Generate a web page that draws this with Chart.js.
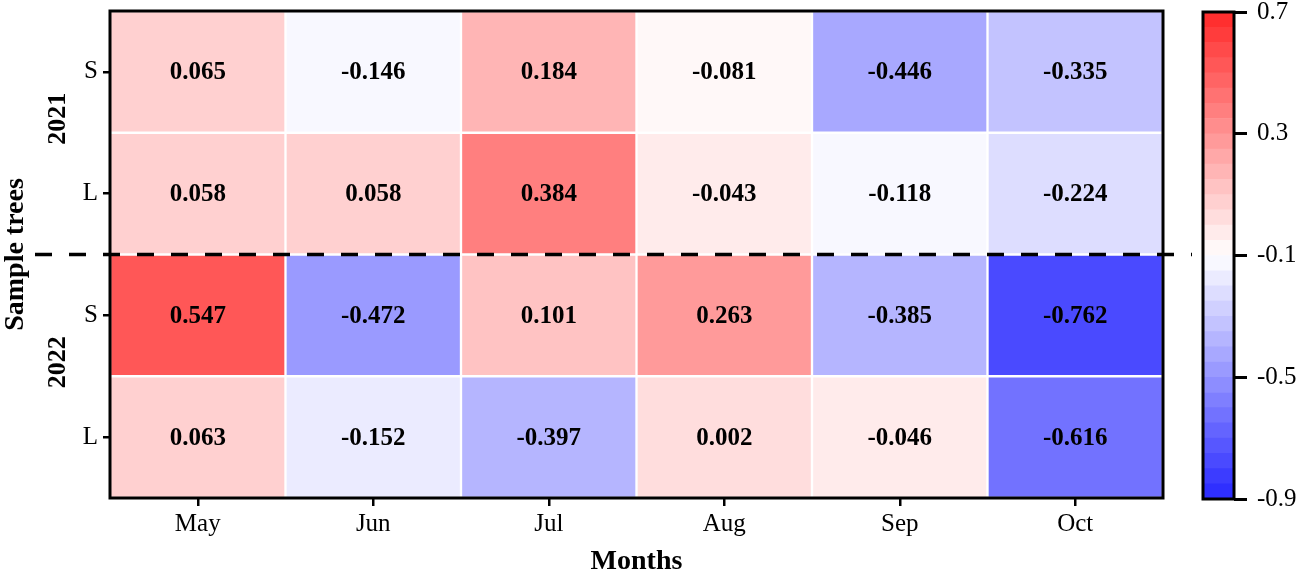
<!DOCTYPE html>
<html>
<head>
<meta charset="utf-8">
<script src="https://cdn.jsdelivr.net/npm/chart.js@4.4.1/dist/chart.umd.min.js"></script>
<style>
  body { margin: 0; background: #fff; }
  #wrap { position: relative; width: 1299px; height: 576px; }
  #wrap canvas { position: absolute; left: 0; top: 0; }
</style>
</head>
<body>
<div id="wrap">
  <canvas id="heat" width="1299" height="576"></canvas>
  <canvas id="bar" width="1299" height="576"></canvas>
</div>
<script>
const months = ['May', 'Jun', 'Jul', 'Aug', 'Sep', 'Oct'];
const rowLabels = ['S', 'L', 'S', 'L'];
const years = ['2021', '2022'];

const s2021 = [0.065, -0.146, 0.184, -0.081, -0.446, -0.335];
const l2021 = [0.058, 0.058, 0.384, -0.043, -0.118, -0.224];
const s2022 = [0.547, -0.472, 0.101, 0.263, -0.385, -0.762];
const l2022 = [0.063, -0.152, -0.397, 0.002, -0.046, -0.616];
const rows = [s2021, l2021, s2022, l2022];

const cbTicks = [0.7, 0.3, -0.1, -0.5, -0.9];
const cbMin = -0.9, cbMax = 0.7, cbMid = -0.1, cbStep = 0.05;

Chart.defaults.color = '#000';
Chart.defaults.font.family = '"Liberation Serif", "Times New Roman", serif';

// blue - white - red, stepped like the colour bar
function colorAt(v) {
  const n = Math.round((cbMax - cbMin) / cbStep);
  let b = Math.floor((v - cbMin) / cbStep);
  b = Math.max(0, Math.min(n - 1, b));
  const c = cbMin + (b + 0.5) * cbStep;
  let r, g, bl;
  if (c >= cbMid) {
    const t = (c - cbMid) / (cbMax - cbMid);
    r = 255; g = 255 - t * 215; bl = g;
  } else {
    const t = (cbMid - c) / (cbMid - cbMin);
    bl = 255; r = 255 - t * 215; g = r;
  }
  return 'rgb(' + Math.round(r) + ',' + Math.round(g) + ',' + Math.round(bl) + ')';
}

const cellText = {
  id: 'cellText',
  afterDatasetsDraw(chart) {
    const ctx = chart.ctx;
    const area = chart.chartArea;
    const y = chart.scales.y;
    ctx.save();
    ctx.font = 'bold 25px "Liberation Serif"';
    ctx.fillStyle = '#000';
    ctx.textAlign = 'center';
    ctx.textBaseline = 'middle';
    chart.data.datasets.forEach((ds, i) => {
      chart.getDatasetMeta(i).data.forEach((el, j) => {
        const p = el.getCenterPoint();
        ctx.fillText(rows[i][j].toFixed(3), p.x, p.y + 1);
      });
    });
    // frame
    ctx.strokeStyle = '#000';
    ctx.lineWidth = 3;
    ctx.strokeRect(area.left, area.top, area.right - area.left, area.bottom - area.top);
    // dashed split between years
    const yy = y.getPixelForValue(2);
    ctx.setLineDash([17, 17]);
    ctx.lineWidth = 3.5;
    ctx.beginPath();
    ctx.moveTo(35, yy);
    ctx.lineTo(area.right + 29, yy);
    ctx.stroke();
    ctx.setLineDash([]);
    // year labels
    ctx.font = 'bold 26px "Liberation Serif"';
    years.forEach((t, k) => {
      const cy = y.getPixelForValue(2 * k + 1) - 14;
      ctx.save();
      ctx.translate(58, cy);
      ctx.rotate(-Math.PI / 2);
      ctx.fillText(t, 0, 0);
      ctx.restore();
    });
    ctx.restore();
  }
};

new Chart(document.getElementById('heat'), {
  type: 'bar',
  data: {
    labels: months,
    datasets: rows.map((vals, r) => ({
      label: rowLabels[r],
      data: vals.map(() => [r, r + 1]),
      backgroundColor: vals.map(colorAt),
      borderColor: '#fff',
      borderWidth: 1.5,
      borderSkipped: false,
      grouped: false,
      categoryPercentage: 1,
      barPercentage: 1
    }))
  },
  options: {
    responsive: false,
    animation: false,
    layout: { padding: { left: 0, top: 11, right: 136, bottom: 0 } },
    plugins: { legend: { display: false }, tooltip: { enabled: false } },
    scales: {
      x: {
        grid: { display: true, offset: false, drawOnChartArea: false, drawTicks: true, tickLength: 8, color: '#000', lineWidth: 2.5 },
        border: { display: false },
        ticks: { padding: 3, font: { size: 25 }, color: '#000' },
        title: { display: true, text: 'Months', font: { size: 28, weight: 'bold', lineHeight: 1 }, padding: { top: 0, bottom: 0 }, color: '#000' },
        afterFit(scale) { scale.height = 78; scale.paddingLeft = 0; scale.paddingRight = 0; }
      },
      y: {
        type: 'linear',
        min: 0,
        max: 4,
        reverse: true,
        afterBuildTicks(scale) { scale.ticks = [0.5, 1.5, 2.5, 3.5].map(v => ({ value: v })); },
        ticks: { padding: 5, font: { size: 25 }, color: '#000', callback: (v, i) => rowLabels[i] },
        grid: { display: true, drawOnChartArea: false, drawTicks: true, tickLength: 7, color: '#000', lineWidth: 2.5 },
        border: { display: false },
        title: { display: true, text: 'Sample trees', font: { size: 28, weight: 'bold', lineHeight: 1 }, padding: { top: 2, bottom: 0 }, color: '#000' },
        afterFit(scale) { scale.width = 110; scale.paddingTop = 0; scale.paddingBottom = 0; }
      }
    }
  },
  plugins: [cellText]
});

// colour bar
const bandCount = Math.round((cbMax - cbMin) / cbStep);
const bands = [];
for (let b = 0; b < bandCount; b++) bands.push(cbMin + b * cbStep);

const barFrame = {
  id: 'barFrame',
  afterDatasetsDraw(chart) {
    const a = chart.chartArea;
    const ctx = chart.ctx;
    ctx.save();
    ctx.strokeStyle = '#000';
    ctx.lineWidth = 3;
    ctx.strokeRect(a.left, a.top, a.right - a.left, a.bottom - a.top);
    ctx.restore();
  }
};

new Chart(document.getElementById('bar'), {
  type: 'bar',
  data: {
    labels: [''],
    datasets: bands.map(lo => ({
      data: [[lo, lo + cbStep]],
      backgroundColor: colorAt(lo + cbStep / 2),
      borderWidth: 0,
      grouped: false,
      categoryPercentage: 1,
      barPercentage: 1
    }))
  },
  options: {
    responsive: false,
    animation: false,
    layout: { padding: { left: 1203, top: 12, right: 0, bottom: 77 } },
    plugins: { legend: { display: false }, tooltip: { enabled: false } },
    scales: {
      x: { display: false },
      y: {
        position: 'right',
        min: cbMin,
        max: cbMax,
        afterBuildTicks(scale) { scale.ticks = cbTicks.map(v => ({ value: v })); },
        ticks: { padding: 10, font: { size: 25 }, color: '#000', callback: v => v.toFixed(1) },
        grid: { display: true, drawOnChartArea: false, drawTicks: true, tickLength: 13, color: '#000', lineWidth: 3 },
        border: { display: false },
        afterFit(scale) { scale.width = 65; scale.paddingTop = 0; scale.paddingBottom = 0; }
      }
    }
  },
  plugins: [barFrame]
});
</script>
</body>
</html>
